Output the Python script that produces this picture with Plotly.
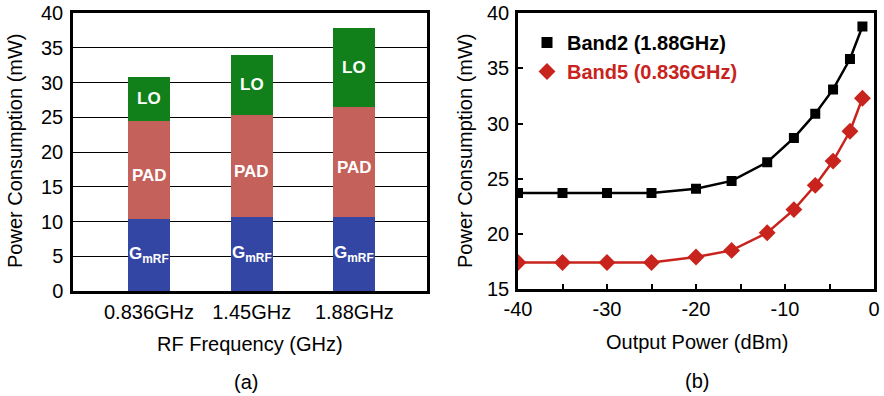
import plotly.graph_objects as go

# ---- data: panel (a) ----
freqs = ["0.836GHz", "1.45GHz", "1.88GHz"]
gm_rf = [10.3, 10.7, 10.7]
pad = [14.2, 14.6, 15.8]
lo = [6.3, 8.7, 11.3]

# ---- data: panel (b) ----
pout = [-40, -35, -30, -25, -20, -16, -12, -9, -6.6, -4.6, -2.7, -1.3]
band2 = [23.7, 23.7, 23.7, 23.7, 24.1, 24.8, 26.5, 28.7, 30.9, 33.1, 35.85, 38.8]
band5 = [17.4, 17.4, 17.4, 17.4, 17.9, 18.5, 20.1, 22.2, 24.4, 26.6, 29.3, 32.3]
x2_ticks = [-40, -30, -20, -10, 0]
x2_ticktext = ["-40", "-30", "-20", "-10", "0"]

FONT = "Liberation Sans, Arial, sans-serif"
C_BLUE = "#3346A3"
C_RED = "#C4615A"
C_GREEN = "#11801A"
C_LINE_RED = "#C8231C"

W, H = 884, 396
def px(x): return x / W
def py(y): return (H - y) / H

fig = go.Figure()

for name, vals, col in [("GmRF", gm_rf, C_BLUE), ("PAD", pad, C_RED), ("LO", lo, C_GREEN)]:
    fig.add_trace(go.Bar(x=freqs, y=vals, name=name, marker=dict(color=col, line=dict(width=0)),
                         width=0.41, showlegend=False, xaxis="x", yaxis="y"))

fig.add_trace(go.Scatter(x=pout, y=band2, mode="lines+markers", showlegend=False,
                         line=dict(color="black", width=2.5),
                         marker=dict(symbol="square", size=10, color="black"),
                         xaxis="x2", yaxis="y2"))
fig.add_trace(go.Scatter(x=pout, y=band5, mode="lines+markers", showlegend=False,
                         line=dict(color=C_LINE_RED, width=2.5),
                         marker=dict(symbol="diamond", size=13, color=C_LINE_RED),
                         xaxis="x2", yaxis="y2"))
# legend entries (markers only)
fig.add_trace(go.Scatter(x=[None], y=[None], mode="markers", name="<b>Band2 (1.88GHz)</b>",
                         marker=dict(symbol="square", size=11, color="black"),
                         xaxis="x2", yaxis="y2"))
fig.add_trace(go.Scatter(x=[None], y=[None], mode="markers",
                         name="<b><span style='color:%s'>Band5 (0.836GHz)</span></b>" % C_LINE_RED,
                         marker=dict(symbol="diamond", size=13, color=C_LINE_RED),
                         xaxis="x2", yaxis="y2"))

annotations = []
lab_font = dict(family=FONT, size=17, color="white")
for i, f in enumerate(freqs):
    annotations.append(dict(x=f, y=gm_rf[i] / 2, xref="x", yref="y", showarrow=False,
                            text="<b>G<sub>mRF</sub></b>", font=lab_font))
    annotations.append(dict(x=f, y=gm_rf[i] + pad[i] / 2 - 0.8, xref="x", yref="y", showarrow=False,
                            text="<b>PAD</b>", font=lab_font))
    annotations.append(dict(x=f, y=gm_rf[i] + pad[i] + lo[i] / 2, xref="x", yref="y", showarrow=False,
                            text="<b>LO</b>", font=lab_font))

tfont = dict(family=FONT, size=20, color="black")
def paper_text(x, y, text, angle=0):
    return dict(x=px(x), y=py(y), xref="paper", yref="paper", showarrow=False,
                xanchor="center", yanchor="middle", textangle=angle, text=text, font=tfont)

annotations += [
    paper_text(15, 151, "Power Consumption (mW)", -90),
    paper_text(250, 344, "RF Frequency (GHz)"),
    paper_text(246, 382, "(a)"),
    paper_text(465, 151, "Power Consumption (mW)", -90),
    paper_text(697, 342, "Output Power (dBm)"),
    paper_text(697, 381, "(b)"),
]

fig.update_layout(
    width=W, height=H, margin=dict(l=0, r=0, t=0, b=0, autoexpand=False),
    paper_bgcolor="white", plot_bgcolor="white",
    barmode="stack", font=dict(family=FONT, size=20, color="black"),
    xaxis=dict(domain=[px(73), px(427)], type="category", range=[-0.74, 2.707], automargin=False,
               showline=True, linecolor="black", linewidth=2.5, mirror=True,
               showgrid=False, ticks="", tickfont=tfont, ticklabelstandoff=1, anchor="y"),
    yaxis=dict(domain=[py(291), py(13)], range=[0, 40], dtick=5, automargin=False,
               showline=True, linecolor="black", linewidth=2.5, mirror=True,
               showgrid=True, gridcolor="black", gridwidth=1, zeroline=False,
               ticks="", tickfont=tfont, ticklabelstandoff=3, anchor="x"),
    xaxis2=dict(domain=[px(518), px(874)], range=[-40, 0], tickvals=x2_ticks, ticktext=x2_ticktext,
                automargin=False,
                minor=dict(dtick=5, ticks="inside", ticklen=5, tickcolor="black", tickwidth=1.5),
                showline=True, linecolor="black", linewidth=2.5, mirror=True,
                showgrid=False, zeroline=False, ticks="inside", ticklen=5, tickcolor="black",
                tickwidth=1.5, tickfont=tfont, ticklabelstandoff=0, anchor="y2"),
    yaxis2=dict(domain=[py(289), py(13.3)], range=[15, 40], dtick=5, automargin=False,
                showline=True, linecolor="black", linewidth=2.5, mirror=True,
                showgrid=False, zeroline=False, ticks="inside", ticklen=5, tickcolor="black",
                tickwidth=1.5, tickfont=tfont, ticklabelstandoff=2, anchor="x2"),
    legend=dict(x=px(527), y=py(23), xanchor="left", yanchor="top", bgcolor="rgba(0,0,0,0)",
                traceorder="normal",
                font=dict(family=FONT, size=20, color="black"), tracegroupgap=0),
    annotations=annotations,
)

fig.write_html("out.html")
